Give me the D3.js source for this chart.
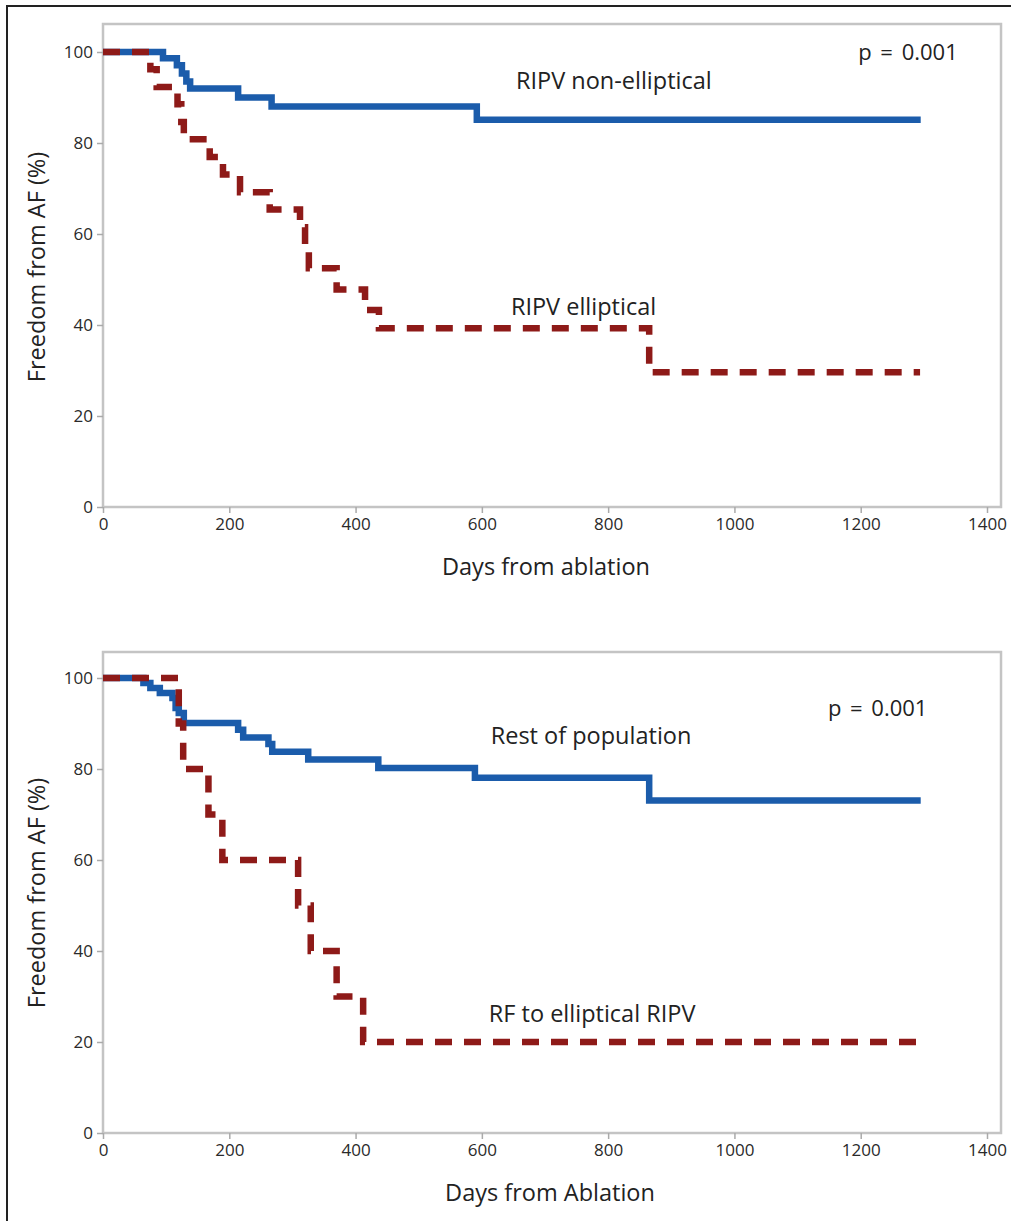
<!DOCTYPE html>
<html>
<head>
    <script type="text/javascript" src="https://cdn.jsdelivr.net/npm/d3@7"></script>
    <style>
        body { margin: 0; background: #fff; }
        svg text { font-family: "Open Sans", "Noto Sans", sans-serif; }
    </style>
</head>
<body>
    <div id="viz"></div>
    <script type="text/javascript">

    // x ticks / y ticks shared by both panels
    var xTicks = [0, 200, 400, 600, 800, 1000, 1200, 1400];
    var yTicks = [0, 20, 40, 60, 80, 100];

    // top panel: [day, % free from AF] step points
    var topBlueDays = [0, 95, 117, 125, 132, 138, 214, 267, 592, 1295];
    var topBlueVals = [100, 98.6, 97.1, 95.3, 93.5, 92, 90, 88, 85.1, 85.1];
    var topRedDays = [0, 75, 85, 118, 124, 128, 169, 190, 217, 264, 312, 320, 326, 370, 415, 437, 865, 1294];
    var topRedVals = [100, 96.2, 92.3, 88.5, 84.6, 80.8, 76.9, 73.1, 69.2, 65.4, 61.5, 56.5, 52.5, 47.8, 43.3, 39.3, 29.6, 29.6];

    // bottom panel
    var botBlueDays = [0, 64, 75, 90, 110, 115, 120, 128, 214, 222, 262, 268, 325, 436, 589, 865, 1295];
    var botBlueVals = [100, 98.9, 97.8, 96.7, 95.6, 93.4, 92.3, 90.1, 88.6, 86.9, 85.5, 83.8, 82.1, 80.2, 78.1, 73.1, 73.1];
    var botRedDays = [0, 120, 127, 167, 189, 309, 329, 370, 412, 1288];
    var botRedVals = [100, 90, 80, 70, 60, 50, 40, 30, 20, 20];

    var blue = "#1b5cab";
    var red = "#8e1a18";

    var svg = d3.select("#viz").append("svg")
        .attr("width", 1011)
        .attr("height", 1221);

    // outer black border (runs off the right and bottom edges)
    svg.append("path")
        .attr("d", "M7,1225 L7,6 L1015,6")
        .attr("fill", "none")
        .attr("stroke", "#222")
        .attr("stroke-width", 2);

    function zip(days, vals) {
        return days.map(function(d, i) { return [d, vals[i]]; });
    }

    function drawPanel(p) {
        var x = d3.scaleLinear().domain([0, 1400]).range([103, 987]);
        var y = d3.scaleLinear().domain([0, 100]).range([p.y0, p.y0 - 455]);

        var g = svg.append("g");

        // frame
        g.append("rect")
            .attr("x", 103).attr("y", p.top)
            .attr("width", 1001 - 103).attr("height", p.y0 - p.top)
            .attr("fill", "none")
            .attr("stroke", "#c4c4c4")
            .attr("stroke-width", 2.5);

        var xa = g.append("g")
            .attr("transform", "translate(0," + p.y0 + ")")
            .call(d3.axisBottom(x).tickValues(xTicks).tickSize(6).tickPadding(5).tickFormat(d3.format("d")));
        var ya = g.append("g")
            .attr("transform", "translate(103,0)")
            .call(d3.axisLeft(y).tickValues(yTicks).tickSize(6).tickPadding(4));
        [xa, ya].forEach(function(a) {
            a.select(".domain").remove();
            a.selectAll(".tick line").attr("stroke", "#aaa").attr("stroke-width", 1.5);
            a.selectAll(".tick text").attr("fill", "#2a2a2a").style("font-size", "17px");
        });

        var line = d3.line()
            .x(function(d) { return x(d[0]); })
            .y(function(d) { return y(d[1]); })
            .curve(d3.curveStepAfter);

        g.append("path")
            .datum(p.blue)
            .attr("d", line)
            .attr("fill", "none")
            .attr("stroke", blue)
            .attr("stroke-width", 6.5);

        g.append("path")
            .datum(p.red)
            .attr("d", line)
            .attr("fill", "none")
            .attr("stroke", red)
            .attr("stroke-width", 6.5)
            .attr("stroke-dasharray", "17,12");

        // axis titles
        g.append("text")
            .attr("x", p.xTitleX).attr("y", p.y0 + 68)
            .attr("text-anchor", "middle")
            .attr("fill", "#222")
            .style("font-size", "23.5px")
            .text(p.xTitle);
        g.append("text")
            .attr("transform", "translate(45," + (p.y0 - 240) + ") rotate(-90)")
            .attr("text-anchor", "middle")
            .attr("fill", "#222")
            .style("font-size", "23.5px")
            .text("Freedom from AF (%)");

        // annotations
        p.notes.forEach(function(n) {
            g.append("text")
                .attr("x", x(n[0])).attr("y", y(n[1]))
                .attr("fill", "#222")
                .style("font-size", n[3] || "23.5px")
                .style("word-spacing", n[3] ? "3px" : null)
                .text(n[2]);
        });
    }

    drawPanel({
        top: 24, y0: 507,
        blue: zip(topBlueDays, topBlueVals),
        red: zip(topRedDays, topRedVals),
        xTitle: "Days from ablation", xTitleX: 546,
        notes: [[1196, 98.2, "p = 0.001", "22px"], [654, 91.9, "RIPV non-elliptical"], [646, 42.2, "RIPV elliptical"]]
    });

    drawPanel({
        top: 652, y0: 1133,
        blue: zip(botBlueDays, botBlueVals),
        red: zip(botRedDays, botRedVals),
        xTitle: "Days from Ablation", xTitleX: 550,
        notes: [[1148, 91.6, "p = 0.001", "22px"], [614, 85.5, "Rest of population"], [611, 24.4, "RF to elliptical RIPV"]]
    });

    </script>
</body>
</html>
